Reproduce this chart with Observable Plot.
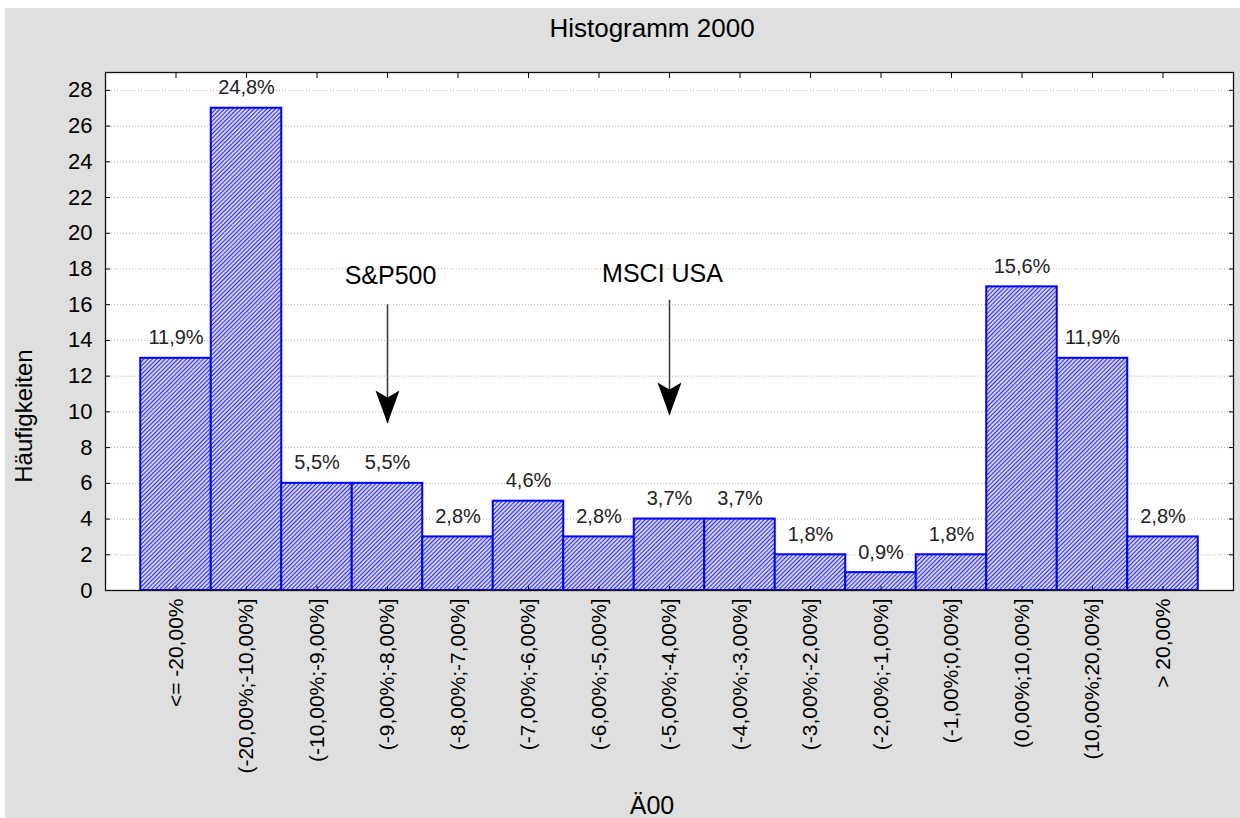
<!DOCTYPE html>
<html><head><meta charset="utf-8">
<script src="https://cdn.jsdelivr.net/npm/d3@7"></script>
<script src="https://cdn.jsdelivr.net/npm/@observablehq/plot@0.6"></script>
<style>
html,body{margin:0;padding:0;background:#fff;overflow:hidden;}
#chart{position:absolute;left:5px;top:8px;width:1235px;height:810px;}
.lbl{position:absolute;font-family:'Liberation Sans',Arial,sans-serif;color:#000;text-align:center;white-space:nowrap;}
</style></head><body>
<div id="chart"></div>
<div id="title" class="lbl" style="left:352px;top:15px;width:600px;font-size:26px;line-height:26px;"></div>
<div id="xlabel" class="lbl" style="left:352px;top:793px;width:600px;font-size:25px;line-height:25px;"></div>
<div id="ylabel" class="lbl" style="left:-126px;top:404px;width:300px;height:24px;font-size:24px;line-height:24px;transform:rotate(-90deg);"></div>
<script>
const categories = ["<= -20,00%","(-20,00%;-10,00%]","(-10,00%;-9,00%]","(-9,00%;-8,00%]","(-8,00%;-7,00%]","(-7,00%;-6,00%]","(-6,00%;-5,00%]","(-5,00%;-4,00%]","(-4,00%;-3,00%]","(-3,00%;-2,00%]","(-2,00%;-1,00%]","(-1,00%;0,00%]","(0,00%;10,00%]","(10,00%;20,00%]","> 20,00%"];
const counts = [13,27,6,6,3,5,3,4,4,2,1,2,17,13,3];
const percentLabels = ["11,9%","24,8%","5,5%","5,5%","2,8%","4,6%","2,8%","3,7%","3,7%","1,8%","0,9%","1,8%","15,6%","11,9%","2,8%"];
const yTicks = [0,2,4,6,8,10,12,14,16,18,20,22,24,26,28];
const arrowLabels = ["S&P500","MSCI USA"];
const arrowCategories = ["(-9,00%;-8,00%]","(-5,00%;-4,00%]"];
const arrowTop = [16.0, 16.25];
const arrowTip = [9.35, 9.8];
const arrowLabelY = [17.6, 17.7];
const titleText = "Histogramm 2000";
const xLabel = "Ä00";
const yLabel = "Häufigkeiten";

const bars = categories.map((c,i)=>({category:c,count:counts[i],pct:percentLabels[i]}));
const arrows = arrowLabels.map((l,i)=>({label:l,category:arrowCategories[i],top:arrowTop[i],tip:arrowTip[i],labelY:arrowLabelY[i]}));

const arrowHead = {draw(ctx){ctx.moveTo(0,0);ctx.lineTo(-12,-33);ctx.lineTo(0,-26);ctx.lineTo(12,-33);ctx.closePath();}};
const font = "'Liberation Sans', Arial, sans-serif";

const svg = Plot.plot({
  width:1235, height:810, marginLeft:100, marginRight:7, marginTop:64, marginBottom:228,
  style:{background:"#dfdfdf", fontFamily:font, color:"#000"},
  x:{type:"band", domain:categories, paddingInner:0, paddingOuter:0.5, round:false},
  y:{domain:[0,29]},
  marks:[
    Plot.frame({fill:"white", stroke:"none"}),
    Plot.ruleY(yTicks.filter(d=>d>0), {stroke:"#b0b0b0", strokeDasharray:"1,2", strokeWidth:1}),
    Plot.barY(bars, {x:"category", y:"count", fill:"url(#hatch)", stroke:"#0000ff", strokeWidth:2}),
    Plot.text(bars, {x:"category", y:"count", text:"pct", dy:-14, lineAnchor:"bottom", fontSize:20, fill:"#222"}),
    Plot.ruleX(arrows, {x:"category", y1:"top", y2:"tip", stroke:"#333", strokeWidth:1.5}),
    Plot.dot(arrows, {x:"category", y:"tip", symbol:arrowHead, fill:"black", stroke:"none", r:4}),
    Plot.text(arrows.slice(0,1), {x:"category", y:"labelY", text:"label", fontSize:25, fill:"#000", dx:3}),
    Plot.text(arrows.slice(1,2), {x:"category", y:"labelY", text:"label", fontSize:25, fill:"#000", dx:-7}),
    Plot.axisY(yTicks, {anchor:"left", tickSize:0, tickPadding:13, fontSize:22, label:null, fill:"#000"}),
    Plot.axisY(yTicks, {anchor:"left", tickSize:5, dx:5, fill:"none", label:null, stroke:"#000"}),
    Plot.axisY(yTicks, {anchor:"right", tickSize:5, dx:-5, fill:"none", label:null, stroke:"#000"}),
    Plot.axisX({anchor:"bottom", tickSize:0, tickRotate:-90, tickPadding:8, fontSize:21, label:null, fill:"#000"}),
    Plot.axisX({anchor:"bottom", tickSize:4, dy:-4, fill:"none", label:null, stroke:"#000"}),
    Plot.axisX({anchor:"top", tickSize:5, dy:5, fill:"none", label:null, stroke:"#000"}),
    Plot.frame({stroke:"#111", strokeWidth:1.3})
  ]
});

const defs = d3.select(svg).insert("defs", ":first-child");
const pat = defs.append("pattern").attr("id","hatch").attr("patternUnits","userSpaceOnUse")
  .attr("width",3).attr("height",3).attr("patternTransform","rotate(45)");
pat.append("rect").attr("width",3).attr("height",3).attr("fill","white");
pat.append("line").attr("x1",1.5).attr("y1",0).attr("x2",1.5).attr("y2",3).attr("stroke","#2626ff").attr("stroke-width",1.4);

document.getElementById("chart").appendChild(svg);
document.getElementById("title").textContent = titleText;
document.getElementById("xlabel").textContent = xLabel;
document.getElementById("ylabel").textContent = yLabel;
</script></body></html>
